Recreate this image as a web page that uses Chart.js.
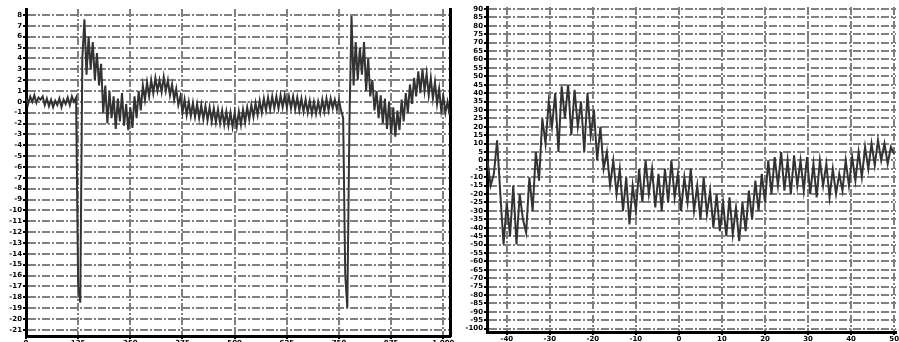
<!DOCTYPE html>
<html>
<head>
<meta charset="utf-8">
<script src="https://cdn.jsdelivr.net/npm/chart.js@4/dist/chart.umd.min.js"></script>
<style>
  body { margin: 0; background: #fff; }
  .panel { position: absolute; top: 0; }
</style>
</head>
<body>
<div class="panel" style="left:0"><canvas id="left" width="455" height="342"></canvas></div>
<div class="panel" style="left:460px"><canvas id="right" width="439" height="342"></canvas></div>
<script>
// left panel: sampled every 5 units from x = 0
const leftStep = 5;
const leftValues = [
  0.3, -0.2, 0.5, 0.0, 0.6, -0.1, 0.4, 0.2, 0.5, -0.3,
  0.3, -0.4, 0.2, -0.5, 0.1, -0.3, 0.3, -0.5, 0.2, -0.2,
  0.4, -0.3, 0.5, 0.0, 0.4, -17.0, -18.5, 4.0, 7.6, 2.5,
  6.0, 3.0, 5.5, 2.0, 4.5, 1.5, 3.5, -1.0, 1.5, -2.0,
  1.0, -1.5, 0.5, -2.5, 0.3, -1.8, 0.8, -2.2, -0.2, -2.6,
  -0.5, -2.4, 0.5, -1.5, 1.0, -0.8, 1.5, 0.2, 1.8, 0.5,
  2.0, 0.8, 2.2, 1.0, 2.0, 0.9, 2.3, 1.0, 2.0, 0.6,
  1.6, 0.2, 1.2, -0.3, 0.5, -1.0, 0.2, -1.2, 0.0, -1.3,
  -0.1, -1.4, -0.2, -1.5, -0.3, -1.6, -0.4, -1.7, -0.5, -1.8,
  -0.6, -1.9, -0.7, -2.0, -0.8, -2.1, -0.9, -2.2, -1.0, -2.3,
  -1.0, -2.3, -0.9, -2.1, -0.7, -1.9, -0.5, -1.6, -0.3, -1.4,
  -0.1, -1.2, 0.1, -1.0, 0.3, -0.8, 0.4, -0.7, 0.5, -0.6,
  0.5, -0.6, 0.6, -0.5, 0.6, -0.5, 0.5, -0.6, 0.5, -0.7,
  0.4, -0.8, 0.3, -0.9, 0.2, -1.0, 0.1, -1.1, 0.0, -1.1,
  0.0, -1.0, 0.2, -0.9, 0.3, -0.8, 0.3, -0.6, 0.2, -0.7,
  0.1, -0.8, -1.5, -16.0, -19.0, -2.0, 7.9, 1.5, 5.5, 2.0,
  5.0, 2.5, 5.5, 1.0, 4.0, 0.5, 2.0, -0.8, 1.0, -1.5,
  0.6, -2.0, 0.3, -2.5, 0.0, -3.0, -0.5, -3.2, -0.8, -2.6,
  0.2, -1.8, 0.8, -1.0, 1.6, -0.2, 2.2, 0.5, 2.8, 0.8,
  3.0, 1.0, 2.6, 0.6, 2.2, 0.3, 1.8, -0.2, 1.2, -0.8,
  0.5, -1.0, 0.0, -1.2
];
const leftXMin = 0;
const leftXMax = 1016;
const leftXTickStep = 125;
const leftYMin = -21.57;
const leftYMax = 8.55;
const leftYTickStep = 1;

// right panel: sampled every 0.75 units from x = -44.5
const rightStart = -44.5;
const rightStep = 0.75;
const rightValues = [
  0, -15, -8, 12, -20, -50, -25, -45, -15, -50,
  -20, -35, -43, -10, -30, 5, -12, 25, 10, 35,
  20, 40, 5, 44, 25, 45, 15, 42, 20, 35,
  5, 40, 15, 30, 0, 20, -5, 5, -15, 0,
  -20, -5, -30, -10, -38, -15, -30, -5, -25, 0,
  -20, -5, -28, -8, -30, -5, -25, 0, -22, -8,
  -30, -10, -25, -5, -30, -15, -35, -10, -32, -18,
  -40, -20, -42, -25, -45, -22, -44, -28, -48, -25,
  -42, -18, -35, -12, -30, -8, -25, 0, -20, 2,
  -15, 5, -18, 0, -20, 3, -15, 0, -18, 2,
  -20, -2, -22, 0, -15, -2, -22, -5, -20, -8,
  -18, 0, -15, 2, -12, 5, -10, 8, -5, 10,
  -3, 12, 0, 10, -2, 8, 4
];
const rightXMin = -44.6;
const rightXMax = 50.46;
const rightXTickStep = 10;
const rightYMin = -102;
const rightYMax = 91.2;
const rightYTickStep = 5;

const lineColor = '#333';
const gridColor = '#808080';
const tickFont = { family: 'DejaVu Sans', size: 7, weight: 'bold' };

function gridOpts() {
  return { color: gridColor, lineWidth: 2, tickColor: '#000', tickLength: 3 };
}

function makeChart(id, points, xr, yr, sizes, rightBorder) {
  const scales = {
    x: {
      type: 'linear',
      min: xr.min, max: xr.max,
      grid: gridOpts(),
      border: { color: '#000', width: 3, dash: [8, 2, 2, 2] },
      ticks: { stepSize: xr.step, includeBounds: false, color: '#000', font: tickFont, padding: 0, maxRotation: 0 },
      afterFit: (s) => { s.height = sizes.xh; },
    },
    y: {
      min: yr.min, max: yr.max,
      grid: gridOpts(),
      border: { color: '#000', width: 3, dash: [8, 2, 2, 2] },
      ticks: { stepSize: yr.step, includeBounds: false, color: '#000', font: tickFont, padding: 1, autoSkip: false },
      afterFit: (s) => { s.width = sizes.yw; },
    },
  };
  if (rightBorder) {
    scales.y2 = {
      position: 'right',
      min: yr.min, max: yr.max,
      grid: { display: false },
      border: { color: '#000', width: 3 },
      ticks: { display: false },
      afterFit: (s) => { s.width = rightBorder; },
    };
  }
  return new Chart(document.getElementById(id), {
    type: 'line',
    data: {
      datasets: [{
        data: points,
        borderColor: lineColor,
        borderWidth: 2,
        pointRadius: 0,
        tension: 0,
      }],
    },
    options: {
      responsive: false,
      animation: false,
      devicePixelRatio: 1,
      layout: { padding: { top: sizes.top, left: 0, right: 0, bottom: 0 } },
      plugins: { legend: { display: false }, tooltip: { enabled: false } },
      scales: scales,
    },
  });
}

makeChart('left',
  leftValues.map((v, i) => ({ x: leftXMin + i * leftStep, y: v })),
  { min: leftXMin, max: leftXMax, step: leftXTickStep },
  { min: leftYMin, max: leftYMax, step: leftYTickStep },
  { top: 9, xh: 6, yw: 26 }, 5);

makeChart('right',
  rightValues.map((v, i) => ({ x: rightStart + i * rightStep, y: v })),
  { min: rightXMin, max: rightXMax, step: rightXTickStep },
  { min: rightYMin, max: rightYMax, step: rightYTickStep },
  { top: 7, xh: 10, yw: 27 }, 0);
</script>
</body>
</html>
